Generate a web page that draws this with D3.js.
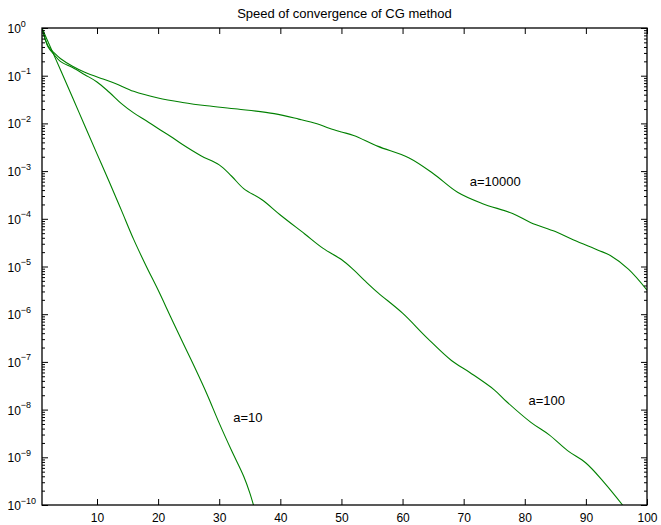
<!DOCTYPE html>
<html>
<head>
<meta charset="utf-8">
<script src="https://cdn.jsdelivr.net/npm/d3@7"></script>
<style>
  html, body { margin: 0; padding: 0; background: #fff; }
  svg { display: block; }
  text { font-family: "Liberation Sans", Arial, Helvetica, sans-serif; fill: #000; }
</style>
</head>
<body>
<svg id="chart" width="661" height="525"></svg>
<script>
// Residual norm per CG iteration for three values of the parameter a
const iters10 = [1, 2, 4, 6, 8, 10, 12, 14, 16, 18, 20, 22, 24, 26, 28, 30, 32, 34, 35, 36];
const resid10 = [1, 0.51, 0.135, 0.035, 0.0089, 0.0023, 6.0e-4, 1.5e-4, 3.7e-5, 1.05e-5, 3.2e-6,
                 9.1e-7, 2.6e-7, 7.6e-8, 2.1e-8, 5.2e-9, 1.4e-9, 4.0e-10, 1.8e-10, 6.6e-11];

const iters100 = [1, 2, 3, 4, 6, 8, 10, 12, 14, 16, 18, 20, 22, 24, 27, 30, 32, 34, 37, 40, 44,
                  47, 50, 52, 54, 56, 60, 64, 68, 71, 75, 77, 81, 84, 87, 90, 93, 96];
const resid100 = [1, 0.40, 0.275, 0.20, 0.148, 0.105, 0.074, 0.045, 0.026, 0.0166, 0.0115,
                  0.0078, 0.0054, 0.0036, 0.0021, 0.00135, 7.9e-4, 4.3e-4, 2.5e-4, 1.2e-4, 4.8e-5,
                  2.4e-5, 1.4e-5, 8.5e-6, 4.8e-6, 2.8e-6, 1.05e-6, 3.2e-7, 1.07e-7, 6.0e-8,
                  2.6e-8, 1.48e-8, 5.4e-9, 2.95e-9, 1.38e-9, 7.6e-10, 2.95e-10, 1.0e-10];

const iters10000 = [1, 2, 3, 4, 6, 8, 11, 13, 16, 20, 24, 28, 33, 39, 43, 46, 48, 50, 52, 56,
                    61, 65, 69, 73, 78, 81, 85, 88, 92, 94, 97, 100];
const resid10000 = [1, 0.42, 0.30, 0.23, 0.158, 0.118, 0.085, 0.069, 0.047, 0.034, 0.0275,
                    0.0234, 0.020, 0.016, 0.0123, 0.0098, 0.0079, 0.0066, 0.0056, 0.0033, 0.0019,
                    8.9e-4, 3.6e-4, 2.1e-4, 1.29e-4, 8.3e-5, 5.4e-5, 3.6e-5, 2.2e-5, 1.7e-5,
                    8.7e-6, 3.2e-6];

const seriesNames = ["a=10", "a=100", "a=10000"];
const xTicks = [10, 20, 30, 40, 50, 60, 70, 80, 90, 100];
const yExponents = [0, -1, -2, -3, -4, -5, -6, -7, -8, -9, -10];
const titleText = "Speed of convergence of CG method";

// Where each curve's name sits, in data units
const labelAt = [
  { name: seriesNames[0], it: 32.3, r: 5.5e-9 },
  { name: seriesNames[1], it: 80.6, r: 1.26e-8 },
  { name: seriesNames[2], it: 71.0, r: 4.9e-4 }
];

const svg = d3.select("#chart");
const box = { left: 42, right: 647, top: 28, bottom: 505 };
const lineColor = "rgb(0,128,0)";

const x = d3.scaleLinear().domain([1, 100]).range([box.left, box.right]);
const y = d3.scaleLog().domain([1e-10, 1]).range([box.bottom, box.top]);

const majorY = yExponents.map(e => Math.pow(10, e));
const minorY = [];
yExponents.slice(1).forEach(e => {
  for (let m = 2; m <= 9; m++) minorY.push(m * Math.pow(10, e));
});

// Curves, clipped to the axes box
svg.append("clipPath").attr("id", "plotclip")
  .append("rect").attr("x", box.left).attr("y", box.top)
  .attr("width", box.right - box.left).attr("height", box.bottom - box.top);

const series = [
  { it: iters10, r: resid10 },
  { it: iters100, r: resid100 },
  { it: iters10000, r: resid10000 }
];

const line = d3.line()
  .x(d => x(d[0]))
  .y(d => y(d[1]))
  .curve(d3.curveCatmullRom.alpha(0.5));

svg.append("g").attr("clip-path", "url(#plotclip)")
  .selectAll("path").data(series).join("path")
  .attr("d", s => line(s.it.map((v, i) => [v, s.r[i]])))
  .attr("fill", "none")
  .attr("stroke", lineColor)
  .attr("stroke-width", 1.1)
  .attr("stroke-linejoin", "round");

// Axis ticks, drawn inward on all four sides
function styleAxis(g) {
  g.select(".domain").remove();
  g.selectAll(".tick line").attr("stroke", "#000").attr("stroke-width", 1);
}

svg.append("g").attr("transform", `translate(0,${box.bottom})`)
  .call(d3.axisBottom(x).tickValues(xTicks).tickSizeInner(-6).tickSizeOuter(0)
        .tickPadding(8).tickFormat(d3.format("d")))
  .call(styleAxis)
  .call(g => g.selectAll("text").attr("font-size", 12)
               .attr("font-family", "'Liberation Sans', Arial, sans-serif"));

svg.append("g").attr("transform", `translate(0,${box.top})`)
  .call(d3.axisTop(x).tickValues(xTicks).tickSizeInner(-6).tickSizeOuter(0).tickFormat(""))
  .call(styleAxis);

svg.append("g").attr("transform", `translate(${box.left},0)`)
  .call(d3.axisLeft(y).tickValues(majorY).tickSizeInner(-6).tickSizeOuter(0).tickFormat(""))
  .call(styleAxis);
svg.append("g").attr("transform", `translate(${box.left},0)`)
  .call(d3.axisLeft(y).tickValues(minorY).tickSizeInner(-3).tickSizeOuter(0).tickFormat(""))
  .call(styleAxis);

svg.append("g").attr("transform", `translate(${box.right},0)`)
  .call(d3.axisRight(y).tickValues(majorY).tickSizeInner(-6).tickSizeOuter(0).tickFormat(""))
  .call(styleAxis);
svg.append("g").attr("transform", `translate(${box.right},0)`)
  .call(d3.axisRight(y).tickValues(minorY).tickSizeInner(-3).tickSizeOuter(0).tickFormat(""))
  .call(styleAxis);

// Power-of-ten labels: base "10" with a raised exponent
const yLab = svg.append("g").attr("font-size", 12);
yExponents.forEach(e => {
  const t = yLab.append("text")
    .attr("x", 7.5)
    .attr("y", y(Math.pow(10, e)) + 5);
  t.append("tspan").text("10");
  t.append("tspan").attr("dy", -6.5).attr("font-size", 9)
    .text(e === 0 ? "0" : "\u2212" + Math.abs(e));
});

// Box around the plotting area
svg.append("rect")
  .attr("x", box.left).attr("y", box.top)
  .attr("width", box.right - box.left).attr("height", box.bottom - box.top)
  .attr("fill", "none").attr("stroke", "#000").attr("stroke-width", 1.3);

// Title
svg.append("text")
  .attr("x", (box.left + box.right) / 2).attr("y", 17.5)
  .attr("text-anchor", "middle")
  .attr("font-size", 13)
  .text(titleText);

// Curve names
svg.append("g").selectAll("text").data(labelAt).join("text")
  .attr("x", d => x(d.it))
  .attr("y", d => y(d.r))
  .attr("font-size", 13)
  .text(d => d.name);
</script>
</body>
</html>
